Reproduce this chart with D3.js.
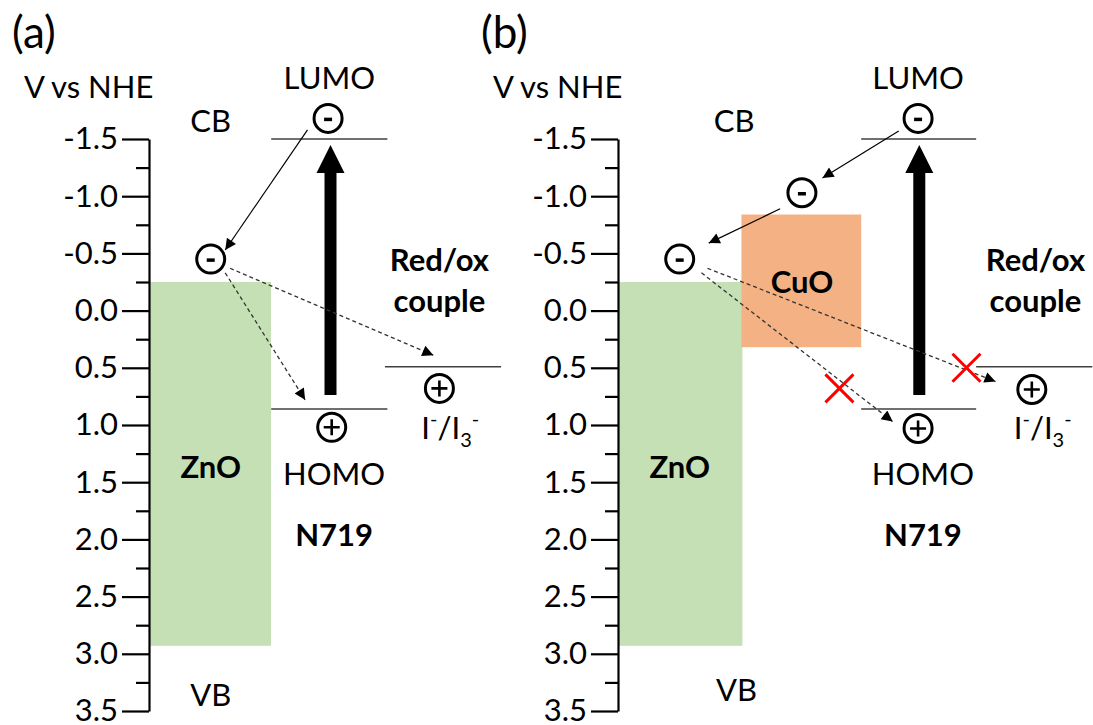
<!DOCTYPE html>
<html>
<head>
<meta charset="utf-8">
<script src="https://cdn.jsdelivr.net/npm/d3@7"></script>
<style>
  body { margin: 0; background: #fff; }
  text { font-family: Lato, "Open Sans", sans-serif; fill: #000; }
</style>
</head>
<body>
<script>
// potentials in V vs NHE
const majorTicks = [-1.5, -1.0, -0.5, 0.0, 0.5, 1.0, 1.5, 2.0, 2.5, 3.0, 3.5];
const minorTicks = [-1.25, -0.75, -0.25, 0.25, 0.75, 1.25, 1.75, 2.25, 2.75, 3.25];
const znoBand = [-0.25, 2.93];     // CB, VB
const cuoBand = [-0.84, 0.32];     // CB, VB
const n719Levels = [-1.5, 0.86];   // LUMO, HOMO
const redoxLevel = 0.49;           // I-/I3-

// carriers: [column position, potential, sign]
const carriersA = [[1.48, -1.68, "-"], [0.51, -0.45, "-"], [1.51, 1.02, "+"], [2.40, 0.68, "+"]];
const carriersB = [[2.48, -1.68, "-"], [1.52, -1.03, "-"], [0.51, -0.45, "-"], [2.48, 1.03, "+"], [3.42, 0.69, "+"]];

// transfer arrows: [x1, v1, x2, v2, dashed]
const arrowsA = [
  [1.31, -1.58, 0.63, -0.53, false],
  [0.67, -0.37, 2.35, 0.39, true],
  [0.63, -0.33, 1.29, 0.78, true]
];
const arrowsB = [
  [2.32, -1.57, 1.69, -1.16, false],
  [1.34, -0.89, 0.75, -0.59, false],
  [0.74, -0.37, 3.12, 0.62, true],
  [0.69, -0.33, 2.27, 0.97, true]
];
// blocked recombination paths
const crossesB = [[1.83, 0.68], [2.88, 0.50]];

const width = 1093, height = 725;
const colW = 121;
const fs = 31; // main font size

const svg = d3.select("body").append("svg")
  .attr("width", width)
  .attr("height", height);

const defs = svg.append("defs");
defs.append("marker")
  .attr("id", "head")
  .attr("viewBox", "0 0 10 10")
  .attr("refX", 10).attr("refY", 5)
  .attr("markerUnits", "userSpaceOnUse")
  .attr("markerWidth", 13).attr("markerHeight", 11)
  .attr("orient", "auto")
  .append("path")
  .attr("d", "M0,0 L10,5 L0,10 Z")
  .attr("fill", "#000");

const y = d3.scaleLinear().domain([-1.5, 3.5]).range([139, 711]);

const panels = [
  {
    label: "(a)", axisX: 149, labelX: 12,
    cols: {zno: [0, 1], n719: [1.01, 1.97], redox: [1.95, 2.91]},
    cuo: false, carriers: carriersA, arrows: arrowsA, crosses: [],
    txt: {cb: 0.51, vb: 0.51, vbV: 3.35, bigArrow: 1.50, lumo: 1.49, homo: 1.53, redoxTxt: 2.40, iodide: 2.49}
  },
  {
    label: "(b)", axisX: 618, labelX: 481,
    cols: {zno: [0, 1.02], cuo: [1.02, 2.01], n719: [2.01, 2.96], redox: [2.96, 3.92]},
    cuo: true, carriers: carriersB, arrows: arrowsB, crosses: crossesB,
    txt: {cb: 0.96, vb: 0.98, vbV: 3.31, bigArrow: 2.49, lumo: 2.48, homo: 2.52, redoxTxt: 3.45, iodide: 3.51}
  }
];

panels.forEach(p => {
  const g = svg.append("g");
  const x = d3.scaleLinear().domain([0, 1]).range([p.axisX, p.axisX + colW]);

  // bands
  g.append("rect")
    .attr("x", x(p.cols.zno[0]) + 1)
    .attr("y", y(znoBand[0]))
    .attr("width", x(p.cols.zno[1]) - x(p.cols.zno[0]))
    .attr("height", y(znoBand[1]) - y(znoBand[0]))
    .attr("fill", "#c5e0b4");
  if (p.cuo) {
    g.append("rect")
      .attr("x", x(p.cols.cuo[0]))
      .attr("y", y(cuoBand[0]))
      .attr("width", x(p.cols.cuo[1]) - x(p.cols.cuo[0]))
      .attr("height", y(cuoBand[1]) - y(cuoBand[0]))
      .attr("fill", "#f4b183");
  }

  // axis
  const major = g.append("g")
    .attr("transform", `translate(${p.axisX},0)`)
    .call(d3.axisLeft(y).tickValues(majorTicks).tickSize(27).tickSizeOuter(0)
      .tickPadding(4).tickFormat(d => d.toFixed(1)));
  major.select(".domain").attr("stroke-width", 2.2);
  major.selectAll(".tick line").attr("stroke-width", 2.2);
  major.selectAll(".tick text")
    .attr("font-size", fs)
    .style("font-family", "Lato, 'Open Sans', sans-serif");
  const minor = g.append("g")
    .attr("transform", `translate(${p.axisX},0)`)
    .call(d3.axisLeft(y).tickValues(minorTicks).tickSize(13).tickFormat(""));
  minor.select(".domain").remove();
  minor.selectAll(".tick line").attr("stroke-width", 2.2);

  // panel label and axis title
  g.append("text").attr("x", p.labelX).attr("y", 48)
    .attr("font-size", 44).text(p.label);
  g.append("text").attr("x", p.labelX + 12).attr("y", 98)
    .attr("font-size", fs).text("V vs NHE");

  // energy levels
  const levels = [
    [p.cols.n719, n719Levels[0]],
    [p.cols.n719, n719Levels[1]],
    [p.cols.redox, redoxLevel]
  ];
  g.selectAll(".level").data(levels).enter().append("line")
    .attr("class", "level")
    .attr("x1", d => x(d[0][0])).attr("x2", d => x(d[0][1]))
    .attr("y1", d => y(d[1])).attr("y2", d => y(d[1]))
    .attr("stroke", "#404040").attr("stroke-width", 1.5);

  // excitation arrow HOMO -> LUMO
  const ax = x(p.txt.bigArrow);
  const tip = y(n719Levels[0]) + 6, base = y(n719Levels[1]) - 14;
  g.append("path")
    .attr("d", `M${ax - 6},${base} L${ax - 6},${tip + 28} L${ax - 14},${tip + 28} L${ax},${tip}
      L${ax + 14},${tip + 28} L${ax + 6},${tip + 28} L${ax + 6},${base} Z`)
    .attr("fill", "#000");

  // transfer arrows
  g.selectAll(".arrow").data(p.arrows).enter().append("line")
    .attr("class", "arrow")
    .attr("x1", d => x(d[0])).attr("y1", d => y(d[1]))
    .attr("x2", d => x(d[2])).attr("y2", d => y(d[3]))
    .attr("stroke", d => d[4] ? "#333" : "#000")
    .attr("stroke-width", d => d[4] ? 1.3 : 1.2)
    .attr("stroke-dasharray", d => d[4] ? "4,3" : null)
    .attr("marker-end", "url(#head)");

  // carriers
  const c = g.selectAll(".carrier").data(p.carriers).enter().append("g")
    .attr("class", "carrier")
    .attr("transform", d => `translate(${x(d[0])},${y(d[1])})`);
  c.append("circle").attr("r", 14).attr("fill", "#fff")
    .attr("stroke", "#000").attr("stroke-width", 3);
  c.filter(d => d[2] === "-").append("line")
    .attr("x1", -4).attr("x2", 4).attr("y1", 1).attr("y2", 1)
    .attr("stroke", "#000").attr("stroke-width", 3.5);
  c.filter(d => d[2] === "+").append("path")
    .attr("d", "M-8,0 H8 M0,-8 V8")
    .attr("stroke", "#000").attr("stroke-width", 2.6);

  // red crosses
  g.selectAll(".cross").data(p.crosses).enter().append("path")
    .attr("class", "cross")
    .attr("transform", d => `translate(${x(d[0])},${y(d[1])})`)
    .attr("d", "M-14,-14 L14,14 M14,-14 L-14,14")
    .attr("stroke", "#ff0000").attr("stroke-width", 3);

  // labels
  const lab = (col, v, str, bold) => g.append("text")
    .attr("x", x(col)).attr("y", y(v))
    .attr("text-anchor", "middle")
    .attr("dominant-baseline", "central")
    .attr("font-size", fs)
    .attr("font-weight", bold ? "bold" : null)
    .text(str);

  lab(p.txt.cb, -1.67, "CB");
  lab(p.txt.vb, p.txt.vbV, "VB");
  lab(0.51, 1.36, "ZnO", true);
  if (p.cuo) lab(1.52, -0.26, "CuO", true);
  lab(p.txt.lumo, -2.04, "LUMO");
  lab(p.txt.homo, 1.42, "HOMO");
  lab(p.txt.homo, 1.95, "N719", true);
  lab(p.txt.redoxTxt, -0.45, "Red/ox", true);
  lab(p.txt.redoxTxt, -0.09, "couple", true);

  // I-/I3- with super/subscripts
  const io = g.append("text")
    .attr("x", x(p.txt.iodide)).attr("y", y(1.03) + 11)
    .attr("text-anchor", "middle")
    .attr("font-size", fs);
  io.append("tspan").text("I");
  io.append("tspan").attr("dy", -13).attr("font-size", 20).text("-");
  io.append("tspan").attr("dy", 13).text("/I");
  io.append("tspan").attr("dy", 8).attr("font-size", 20).text("3");
  io.append("tspan").attr("dy", -21).attr("font-size", 20).text("-");
});
</script>
</body>
</html>
